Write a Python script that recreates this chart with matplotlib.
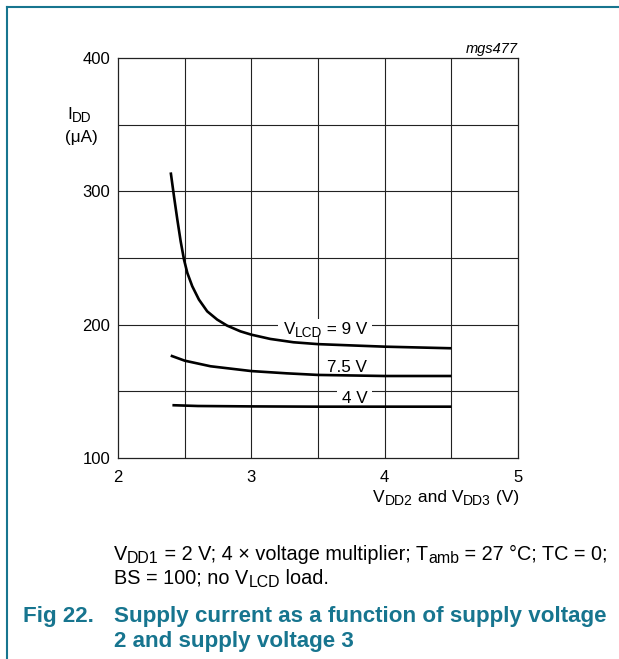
import matplotlib
matplotlib.use("Agg")
import matplotlib.pyplot as plt
from matplotlib.lines import Line2D
from matplotlib.patches import Rectangle
from matplotlib.transforms import IdentityTransform

plt.rcParams['font.family'] = ['Liberation Sans', 'DejaVu Sans']

# ---- data ----
v9_x = [2.3955, 2.420, 2.445, 2.470, 2.495, 2.520, 2.557, 2.607, 2.669, 2.744,
        2.818, 2.918, 3.0, 3.142, 3.316, 3.5, 3.813, 4.0, 4.5]
v9_y = [314.2, 296.2, 278.8, 262.5, 248.8, 238.8, 228.8, 218.8, 210.0, 203.8,
        199.3, 195.0, 192.5, 189.3, 186.8, 185.4, 184.2, 183.5, 182.3]
v75_x = [2.3955, 2.5, 2.694, 3.0, 3.266, 3.5, 3.813, 4.0, 4.5]
v75_y = [176.8, 173.0, 168.8, 165.2, 163.5, 162.3, 161.8, 161.5, 161.5]
v4_x = [2.408, 2.6, 3.0, 3.5, 4.0, 4.5]
v4_y = [139.6, 139.0, 138.7, 138.5, 138.5, 138.5]

# curve labels: list of (text, is_subscript) runs; right edge / baseline in data units
curve_labels = [[('V', False), ('LCD', True), (' = 9 V', False)],
                [('7.5 V', False)],
                [('4 V', False)]]
label_pos = [(3.87, 193.0), (3.87, 164.3), (3.87, 141.0)]

xticks = [2, 3, 4, 5]
yticks = [100, 200, 300, 400]
xgrid = [2.5, 3.0, 3.5, 4.0, 4.5]
ygrid = [150, 200, 250, 300, 350]

W, H = 619, 659
fig = plt.figure(figsize=(W / 100, H / 100), dpi=100)
renderer = fig.canvas.get_renderer()
IDT = IdentityTransform()
teal = '#17758f'


def text_width(s, size, weight):
    t = fig.text(0, 0, s + '|', fontsize=size, fontweight=weight, transform=IDT)
    w1 = t.get_window_extent(renderer).width
    t.set_text('|')
    w2 = t.get_window_extent(renderer).width
    t.remove()
    return w1 - w2


def rich(x, y, runs, size, ha='left', color='black', weight='normal',
         style='normal', zorder=5, box=False, target=None):
    """x, y in display pixels (y up), y is the baseline."""
    target = fig if target is None else target
    sub_size = size * 0.8
    widths = [text_width(s, sub_size if sub else size, weight) for s, sub in runs]
    total = sum(widths)
    if ha == 'right':
        cur = x - total
    elif ha == 'center':
        cur = x - total / 2
    else:
        cur = x
    if box:
        target.add_artist(Rectangle((cur - 5, y - 2), total + 10, 17,
                                    transform=IDT, facecolor='white', edgecolor='none',
                                    zorder=2))
    for (s, sub), w in zip(runs, widths):
        dy = -size * 100 / 72 * 0.16 if sub else 0
        target.text(cur, y + dy, s, fontsize=sub_size if sub else size, color=color,
                    fontweight=weight, style=style, ha='left', va='baseline',
                    transform=IDT, zorder=zorder)
        cur += w


def px(xr, yr):
    """reference pixel (origin top-left) -> display pixels."""
    return xr, H - yr


# frame lines (top and left)
fig.add_artist(Line2D([7 / W, 1.0], [1 - 6.5 / H, 1 - 6.5 / H], color=teal, lw=1.5,
                      transform=fig.transFigure))
fig.add_artist(Line2D([7.3 / W, 7.3 / W], [0.0, 1 - 6.5 / H], color=teal, lw=1.5,
                      transform=fig.transFigure))

ax = fig.add_axes([118 / W, 1 - 458 / H, 400 / W, 400 / H])
ax.set_xlim(2, 5)
ax.set_ylim(100, 400)
for gx in xgrid:
    ax.axvline(gx, color='#222222', lw=0.8, zorder=1)
for gy in ygrid:
    ax.axhline(gy, color='#222222', lw=0.8, zorder=1)
for s in ax.spines.values():
    s.set_linewidth(0.9)
    s.set_color('#222222')

for xs, ys in [(v9_x, v9_y), (v75_x, v75_y), (v4_x, v4_y)]:
    ax.plot(xs, ys, color='black', lw=1.9, zorder=3, solid_capstyle='butt')

ax.set_xticks(xticks)
ax.set_yticks(yticks)
ax.set_xticklabels([str(t) for t in xticks], fontsize=12)
ax.set_yticklabels([str(t) for t in yticks], fontsize=12)
ax.tick_params(axis='y', length=0, pad=5.6)
ax.tick_params(axis='x', length=0, pad=8.5)

# curve labels (white background hides grid lines, curves stay on top)
for runs, (lx, ly) in zip(curve_labels, label_pos):
    dx, dy = ax.transData.transform((lx, ly))
    rich(dx, dy, runs, 12.3, ha='right', box=True, zorder=4, target=ax)

# axis labels
rich(*px(519, 502), [('V', False), ('DD2', True), (' and V', False), ('DD3', True),
                     (' (V)', False)], 12.5, ha='right')
rich(*px(67.5, 119.3), [('I', False), ('DD', True)], 12.3)
rich(*px(65, 141.7), [('(μA)', False)], 12.3)
rich(*px(518, 53), [('mgs477', False)], 10.5, ha='right', style='italic')

# caption
rich(*px(114, 560), [('V', False), ('DD1', True),
                     (' = 2 V; 4 × voltage multiplier; T', False), ('amb', True),
                     (' = 27 °C; TC = 0;', False)], 14.3)
rich(*px(114, 584), [('BS = 100; no V', False), ('LCD', True), (' load.', False)], 14.3)

rich(*px(23, 621.7), [('Fig 22.', False)], 16.1, color=teal, weight='bold')
rich(*px(114, 621.7), [('Supply current as a function of supply voltage', False)],
     16.1, color=teal, weight='bold')
rich(*px(114, 646.5), [('2 and supply voltage 3', False)], 16.1, color=teal,
     weight='bold')

fig.savefig('out.png', dpi=100)
